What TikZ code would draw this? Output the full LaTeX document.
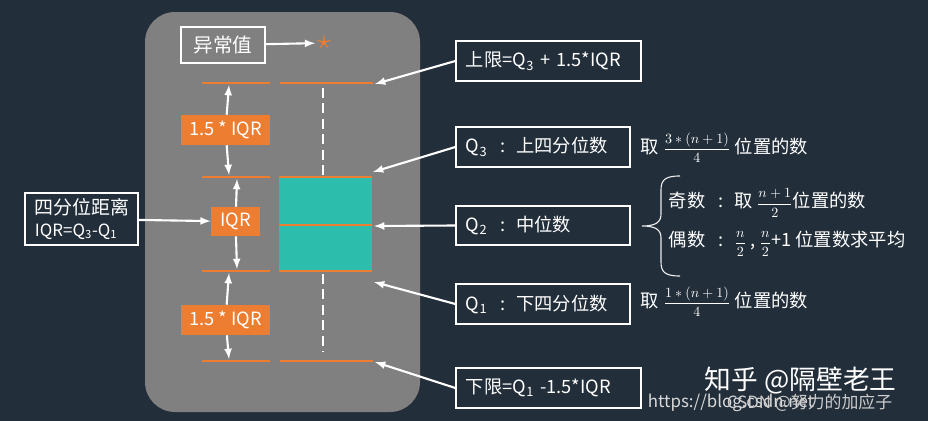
\documentclass[tikz,border=0pt]{standalone}
\usepackage{fontspec}
\setmainfont{Noto Sans CJK SC}
\usetikzlibrary{arrows}

\definecolor{bgnavy}{RGB}{34,46,58}
\definecolor{boxgray}{RGB}{128,128,128}
\definecolor{whiskorange}{RGB}{237,125,49}
\definecolor{iqrteal}{RGB}{44,189,172}

\newcommand{\Qsub}[1]{Q\textsubscript{#1}}
\newcommand{\colsep}{\hspace{0.7em}:\hspace{0.6em}}
\newcommand{\posfrac}[2]{{\fontsize{10}{12}\selectfont$\displaystyle\frac{#1}{#2}$}}

\begin{document}
\begin{tikzpicture}[x=0.025cm, y=-0.025cm, >=latex,
    every node/.style={text=white, font=\fontsize{13}{15}\selectfont},
    whisk/.style={color=whiskorange, line width=2pt},
    tagbox/.style={fill=whiskorange, inner sep=0pt},
    notebox/.style={draw=white, line width=0.9pt, inner xsep=0.25cm, inner ysep=0pt, align=left},
    pointer/.style={->, color=white, line width=1.5pt}]

          % background and plot area
          \fill[color=bgnavy] (0,0) rectangle (928,421);
          \fill[color=boxgray, rounded corners=0.75cm] (145,12) rectangle (420,412);

          % whiskers
          \draw[whisk] (202,83) -- (270,83);
          \draw[whisk] (280,83) -- (373,83);
          \draw[whisk] (202,177) -- (270,177);
          \draw[whisk] (202,271) -- (270,271);
          \draw[whisk] (202,361) -- (270,361);
          \draw[whisk] (280,361) -- (373,361);

          \draw[color=white, line width=2pt, dash pattern=on 7pt off 4pt] (323,88) -- (323,176);
          \draw[color=white, line width=2pt, dash pattern=on 7pt off 4pt] (323,274) -- (323,352);

          % the box
          \fill[color=iqrteal] (279,177) rectangle (372,271);
          \draw[whisk] (279,177) -- (372,177);
          \draw[whisk] (279,225) -- (372,225);
          \draw[whisk] (279,271) -- (372,271);

          \coordinate (topwhisk) at (229,85);
          \coordinate (q3left) at (229,175);
          \coordinate (q3mark) at (237,179);
          \coordinate (q1mark) at (237,269);
          \coordinate (q1left) at (229,273);
          \coordinate (botwhisk) at (229,359);

          \coordinate (upperend) at (375,84);
          \coordinate (q3end) at (373,172);
          \coordinate (medend) at (374,226);
          \coordinate (q1end) at (374,282);
          \coordinate (lowerend) at (375,362);

          % labels in the plot
          \node[draw=white, line width=0.9pt, minimum width=2.1cm, minimum height=0.9cm, font=\fontsize{14}{16}\selectfont] (outlier) at (223,45) {异常值};
          \node[text=whiskorange, inner sep=1pt, font=\fontsize{20}{22}\selectfont] (star) at (324,43) {$\star$};
          \node[tagbox, minimum width=2.225cm, minimum height=0.75cm] (upband) at (225.5,130) {1.5 * IQR};
          \node[tagbox, minimum width=1.225cm, minimum height=0.725cm] (iqr) at (235.5,221.5) {IQR};
          \node[tagbox, minimum width=2.225cm, minimum height=0.75cm] (lowband) at (225.5,320) {1.5 * IQR};
          \node[notebox, text width=2.325cm, minimum height=1.3cm, font=\fontsize{13.5}{15}\selectfont] (spread) at (81.5,219)
               {四分位距离\\{\fontsize{12}{14}\selectfont IQR=\Qsub{3}-\Qsub{1}}};

          \draw[pointer] (outlier) -- (star);
          \draw[pointer] (upband) -- (topwhisk);
          \draw[pointer] (upband) -- (q3left);
          \draw[pointer] (iqr) -- (q3mark);
          \draw[pointer] (iqr) -- (q1mark);
          \draw[pointer] (lowband) -- (q1left);
          \draw[pointer] (lowband) -- (botwhisk);
          \draw[pointer] (spread) -- (iqr);

          % notes on the right
          \node[notebox, text width=4.125cm, minimum height=1cm] (upperlim) at (548.5,61) {上限=\Qsub{3} + 1.5*IQR};
          \node[notebox, text width=3.85cm, minimum height=1cm] (q3note) at (543,147) {\Qsub{3}\colsep 上四分位数};
          \node[notebox, text width=3.85cm, minimum height=0.975cm] (q2note) at (543,225.5) {\Qsub{2}\colsep 中位数};
          \node[notebox, text width=3.85cm, minimum height=1cm] (q1note) at (543,304) {\Qsub{1}\colsep 下四分位数};
          \node[notebox, text width=4.125cm, minimum height=1cm] (lowerlim) at (548.5,388) {下限=\Qsub{1} -1.5*IQR};

          \draw[pointer] (upperlim.west) -- (upperend);
          \draw[pointer] (q3note.west) -- (q3end);
          \draw[pointer] (q2note.west) -- (medend);
          \draw[pointer] (q1note.west) -- (q1end);
          \draw[pointer] (lowerlim.west) -- (lowerend);

          \node[anchor=west] (q3rule) at (636,148) {取 \posfrac{3*(n+1)}{4} 位置的数};
          \node[anchor=west] (q1rule) at (636,302) {取 \posfrac{1*(n+1)}{4} 位置的数};

          % brace for odd / even
          \draw[color=white!85!gray, line width=0.8pt] (680,176) .. controls (665,176) and (661,180) .. (661,190) -- (661,214)
               .. controls (661,222) and (656,226) .. (642,226) .. controls (656,226) and (661,230) .. (661,238) -- (661,262)
               .. controls (661,272) and (665,276) .. (680,276);
          \node[anchor=west] (oddrule) at (664,203) {奇数\colsep 取 \posfrac{n+1}{2}位置的数};
          \node[anchor=west] (evenrule) at (664,244) {偶数\colsep\posfrac{n}{2} , \posfrac{n}{2}+1 位置数求平均};

          % watermarks
          \node[anchor=west, font=\fontsize{19}{21}\selectfont] (zhihu) at (700,381) {知乎 @隔壁老王};
          \node[anchor=west, text=white!70!gray, font=\fontsize{12}{14}\selectfont] (csdnurl) at (643,403) {https://blog.csdn.net};
          \node[anchor=west, text=white!60!gray, font=\fontsize{12}{14}\selectfont] (csdnname) at (722,403) {CSDN @努力的加应子};
        \end{tikzpicture}
\end{document}
